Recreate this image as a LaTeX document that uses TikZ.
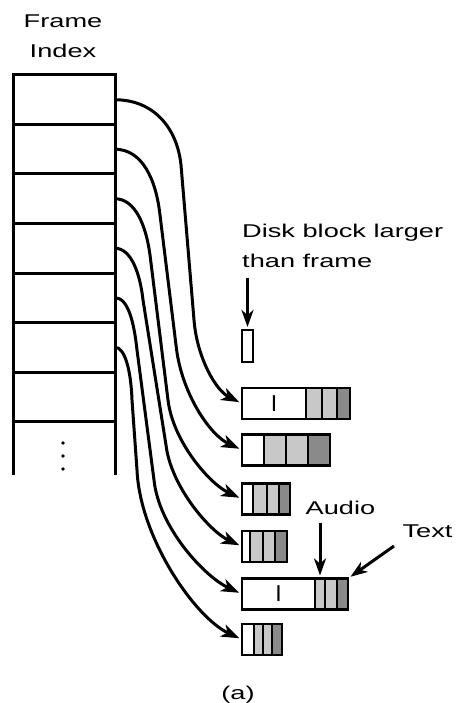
\documentclass[tikz,border=0pt]{standalone}
\usepackage{fontspec}
\setmainfont{Liberation Sans}
\usetikzlibrary{positioning, arrows.meta}
\definecolor{lightseg}{RGB}{200,200,200}
\definecolor{darkseg}{RGB}{138,138,138}
\newcommand{\wide}[1]{\scalebox{1.47}[1]{#1}}

\begin{document}
\begin{tikzpicture}[
        x=1pt, y=-1pt,
        font=\fontsize{18.5}{30}\selectfont,
        cell/.style={rectangle, draw, line width=3pt, minimum width=102pt, minimum height=49.5pt, inner sep=0pt, outer sep=0pt},
        seg/.style={rectangle, draw, line width=2.5pt, minimum height=31pt, inner sep=0pt, outer sep=0pt, fill=white},
        lseg/.style={seg, fill=lightseg},
        dseg/.style={seg, fill=darkseg},
        link/.style={line width=3pt, -{Stealth[length=18pt, width=13pt, inset=5pt]}, shorten >=3pt},
        pointer/.style={line width=3pt, -{Stealth[length=17pt, width=12pt, inset=5pt]}, shorten >=3pt},
        iframe/.style={font=\fontsize{23}{23}\selectfont}
    ]
        \useasboundingbox (0,0) rectangle (455,703);

        % Frame index table
        \node[anchor=north, align=center, inner sep=0pt] (title) at (63,14.8) {\wide{Frame}\\\wide{Index}};
        \node[cell] (r1) at (64,99.75) {};
        \node[cell, below=0pt of r1] (r2) {};
        \node[cell, below=0pt of r2] (r3) {};
        \node[cell, below=0pt of r3] (r4) {};
        \node[cell, below=0pt of r4] (r5) {};
        \node[cell, below=0pt of r5] (r6) {};
        \node[cell, below=0pt of r6] (r7) {};
        \draw[line width=3pt] (r7.south west) -- ++(0,53.5);
        \draw[line width=3pt] (r7.south east) -- ++(0,53.5);
        \fill (63,443) circle (1.8pt);
        \fill (63,456) circle (1.8pt);
        \fill (63,469) circle (1.8pt);

        % Disk blocks
        \node[anchor=north west, align=left, inner sep=0pt] (disk) at (242,223.5) {\wide{Disk block larger}\\\wide{than frame}};
        \node[seg, minimum width=11pt, minimum height=32pt] (b0) at (247.5,346) {};

        \node[seg, minimum width=64pt, anchor=west, iframe] (b1) at (242,403.5) {I};
        \node[lseg, minimum width=16pt, right=0pt of b1] (b1b) {};
        \node[lseg, minimum width=15pt, right=0pt of b1b] (b1c) {};
        \node[dseg, minimum width=13pt, right=0pt of b1c] (b1d) {};

        \node[seg, minimum width=22pt, anchor=west] (b2) at (242,450) {};
        \node[lseg, minimum width=22pt, right=0pt of b2] (b2b) {};
        \node[lseg, minimum width=22pt, right=0pt of b2b] (b2c) {};
        \node[dseg, minimum width=22pt, right=0pt of b2c] (b2d) {};

        \node[seg, minimum width=11pt, anchor=west] (b3) at (242,499) {};
        \node[lseg, minimum width=14pt, right=0pt of b3] (b3b) {};
        \node[lseg, minimum width=12pt, right=0pt of b3b] (b3c) {};
        \node[dseg, minimum width=11pt, right=0pt of b3c] (b3d) {};

        \node[seg, minimum width=8pt, anchor=west] (b4) at (242,546.5) {};
        \node[lseg, minimum width=13pt, right=0pt of b4] (b4b) {};
        \node[lseg, minimum width=12pt, right=0pt of b4b] (b4c) {};
        \node[dseg, minimum width=12pt, right=0pt of b4c] (b4d) {};

        \node[seg, minimum width=73pt, anchor=west, iframe] (b5) at (242,594) {I};
        \node[lseg, minimum width=10pt, right=0pt of b5] (b5b) {};
        \node[lseg, minimum width=12pt, right=0pt of b5b] (b5c) {};
        \node[dseg, minimum width=11pt, right=0pt of b5c] (b5d) {};

        \node[seg, minimum width=12pt, anchor=west] (b6) at (242,639.5) {};
        \node[lseg, minimum width=9pt, right=0pt of b6] (b6b) {};
        \node[lseg, minimum width=9pt, right=0pt of b6b] (b6c) {};
        \node[dseg, minimum width=10pt, right=0pt of b6c] (b6d) {};

        % Index entries to blocks
        \draw[link] (r1.east) .. controls +(38,0) and +(-4,-38) .. (181,165) -- (194,320) .. controls +(3,38) and +(-26,-13) .. (b1.west);
        \draw[link] (r2.east) .. controls +(27,0) and +(-4,-36) .. (160,215) -- (176,345) .. controls +(5,48) and +(-32,-15) .. (b2.west);
        \draw[link] (r3.east) .. controls +(20,0) and +(-4,-30) .. (150,255) -- (168,400) .. controls +(5,42) and +(-32,-15) .. (b3.west);
        \draw[link] (r4.east) .. controls +(16,0) and +(-3,-27) .. (143,300) -- (166,445) .. controls +(5,42) and +(-32,-15) .. (b4.west);
        \draw[link] (r5.east) .. controls +(13,0) and +(-3,-28) .. (137,350) -- (154,480) .. controls +(5,48) and +(-37,-17) .. (b5.west);
        \draw[link] (r6.east) .. controls +(10,0) and +(-1,-29) .. (132,400) -- (137,470) .. controls +(3,68) and +(-47,-22) .. (b6.west);

        % Annotations
        \coordinate (d0) at (247.5,278);
        \draw[pointer] (d0) -- (b0.north);
        \node[anchor=base, inner sep=0pt] (audio) at (340.5,514) {\wide{Audio}};
        \coordinate (a0) at (320,523);
        \draw[pointer] (a0) -- (b5b.north);
        \node[anchor=base, inner sep=0pt] (txt) at (427.5,537) {\wide{Text}};
        \coordinate (t0) at (394,546);
        \draw[pointer] (t0) -- (b5d.north east);
        \node[anchor=base, inner sep=0pt] (cap) at (238,699) {\wide{(a)}};
    \end{tikzpicture}
\end{document}
